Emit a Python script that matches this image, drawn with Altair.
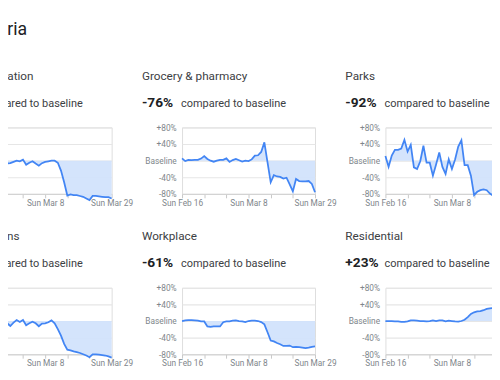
import altair as alt
import pandas as pd

region = "Victoria"
categories = ["Retail & recreation", "Grocery & pharmacy", "Parks",
              "Transit stations", "Workplace", "Residential"]
changes = ["-89%", "-76%", "-92%", "-86%", "-61%", "+23%"]
compared_text = "compared to baseline"

dates = [d.strftime("%Y-%m-%d") for d in pd.date_range("2020-02-16", "2020-03-29")]

retail = [2, 4, 3, 5, 6, 5, 7, 9, 7, -7, -6, -3, 0, -1.5, 2.5, -10, -5, -1.5, -7, -12,
          -6, -3, -1.5, 0, 0, -5, -24, -52, -84, -81, -83, -83, -85, -87, -91, -95,
          -85, -85, -86, -87, -88, -88, -91]
grocery = [5.5, -1, 2, 1.5, 2, 2, 5, 11, 4, 0, -2.5, 0, 2, 2, 5.5, -3, 1.5, 4, 1, -2,
           0, -1, 3, 12, 13, 21, 44, -4, -52, -35, -38, -39, -43, -41, -57, -74,
           -44, -49, -50, -50, -49, -56, -76]
parks = [11, -15, 12.5, 26, 26, 29, 50, 22, 38, -16, -20, -1.5, 36, -5, -5, -36, -9,
         20, -15, -32, 3, -20, 3, 34, 49, -11, -11, -36, -83, -75, -71, -69, -71,
         -79, -84, -88, -90, -86, -88, -91, -89, -90, -92]
transit = [5, 8, 6, 10, 12, 9, 14, 20, 4, -5.5, -12, -4, 2.5, -2.5, 2.5, -10, -5.5,
           -1.5, -5.5, -12.5, -6, -5.5, -3, 1.5, -5.5, -19.5, -35, -55, -69, -70.5,
           -73, -75, -77, -80, -83, -87, -80, -80, -81, -82, -83, -85, -88]
workplace = [0, 1.5, 2, 2, 1.5, 1, -1, -1, -13, -14, -13, -13, -13, -3, -1, -1, 1,
             1.5, 0, -1, -2.5, 0, 1, 1, 0, -2.5, -8, -27, -47, -49, -53, -56, -60,
             -60, -59, -63, -62, -63, -64, -65, -64, -62, -61]
residential = [0, -0.5, -0.5, -1, -1, -2, -2, -1, 1.5, 1.5, 1, 0, 0, -1, 0, 1.5, 0,
               1.5, 1.5, -1, 1, 0, -1, -1.5, 0, 3, 9.5, 17, 21, 23, 24, 26, 29, 30.5,
               31, 28, 27, 26, 25, 24, 24, 23, 23]
series = [retail, grocery, parks, transit, workplace, residential]

y_ticks = [-80, -40, 0, 40, 80]
x_tick_dates = ["2020-02-16", "2020-02-23", "2020-03-01", "2020-03-08",
                "2020-03-15", "2020-03-22", "2020-03-29"]
x_labels_shown = ["Sun Feb 16", "Sun Mar 8", "Sun Mar 29"]

FONT = "Roboto"
W, H = 136, 68


def dt(s):
    y, m, d = map(int, s.split("-"))
    return alt.DateTime(year=y, month=m, date=d, utc=True)


shown = ",".join("'%s'" % s for s in x_labels_shown)
fmt = "utcFormat(datum.value, '%a %b %-d')"
x_enc = alt.X(
    "date:T",
    scale=alt.Scale(type="utc", domain=[dt(dates[0]), dt(dates[-1])], nice=False),
    axis=alt.Axis(
        title=None, values=[dt(s) for s in x_tick_dates],
        labelExpr="indexof([%s], %s) >= 0 ? %s : ''" % (shown, fmt, fmt),
        grid=False, domainColor="#d0d0d0", domainWidth=1, tickColor="#c8c8c8",
        tickSize=4, labelFont=FONT, labelFontSize=8.5, labelColor="#80868b",
        labelPadding=1, labelOverlap=False, labelBound=False, labelFlush=False,
        labelAngle=0,
    ),
)
y_enc = alt.Y(
    "value:Q",
    scale=alt.Scale(domain=[-80, 80], nice=False, zero=False),
    axis=alt.Axis(
        title=None, values=y_ticks,
        labelExpr="datum.value == 0 ? 'Baseline' : (datum.value > 0 ? '+' : '') + datum.value + '%'",
        domain=False, ticks=False, grid=True, gridColor="#e6e6e6", gridWidth=1.2,
        labelPadding=6, labelFont=FONT, labelFontSize=8.5, labelColor="#80868b",
    ),
)


def panel(i):
    df = pd.DataFrame({"date": dates, "value": series[i]})
    base = alt.Chart(df)
    area = base.mark_area(color="#d2e3fc", opacity=0.95).encode(
        x=x_enc, y=y_enc, y2=alt.datum(0))
    line = base.mark_line(color="#4285f4", strokeWidth=1.8).encode(x=x_enc, y=y_enc)
    tdf = pd.DataFrame({"name": [categories[i]], "pct": [changes[i]],
                        "cmp": [compared_text], "region": [region]})
    tb = alt.Chart(tdf)
    t1 = tb.mark_text(align="left", baseline="alphabetic", font=FONT, fontSize=12,
                      color="#3c4043").encode(
        text="name:N", x=alt.value(-41), y=alt.value(-49))
    t2 = tb.mark_text(align="left", baseline="alphabetic", font=FONT, fontSize=14,
                      fontWeight="bold", color="#202124").encode(
        text="pct:N", x=alt.value(-41), y=alt.value(-21))
    t3 = tb.mark_text(align="left", baseline="alphabetic", font=FONT, fontSize=11.2,
                      color="#3c4043").encode(
        text="cmp:N", x=alt.value(-1), y=alt.value(-21))
    layers = [area, line, t1, t2, t3]
    if i == 0:
        t0 = tb.mark_text(align="left", baseline="alphabetic", font=FONT, fontSize=18,
                          color="#202124").encode(
            text="region:N", x=alt.value(-12), y=alt.value(-95))
        layers.append(t0)
    return alt.layer(*layers).properties(width=W, height=H)


chart = alt.concat(*[panel(i) for i in range(6)], columns=3).properties(
    spacing={"row": 96, "column": 72},
    bounds="flush",
    padding={"left": -72, "top": 8, "right": -50, "bottom": 0},
).configure_view(stroke=None).configure(background="white")

chart.save("out.html", embed_options={"renderer": "svg", "actions": False})
